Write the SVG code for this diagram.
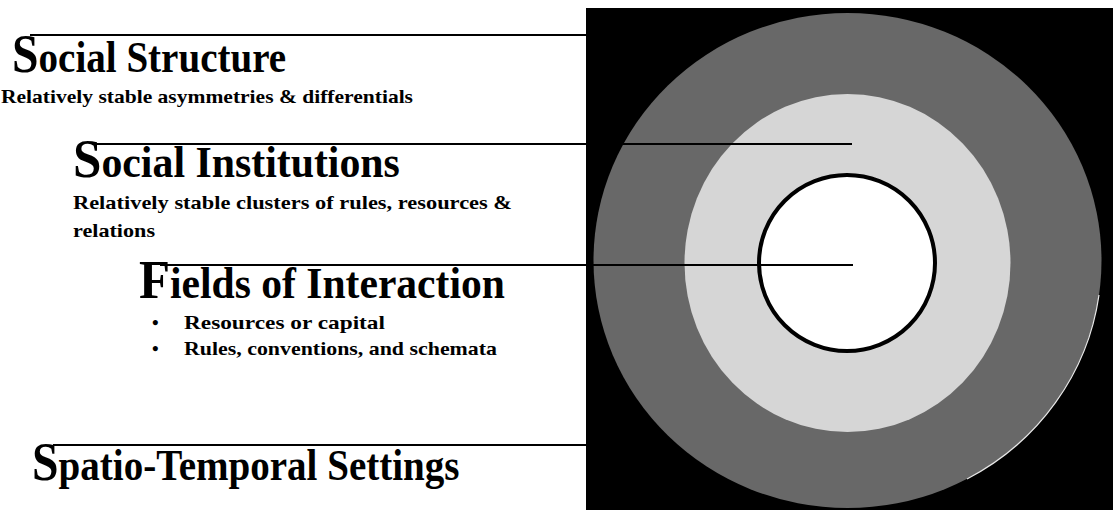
<svg xmlns="http://www.w3.org/2000/svg" width="1115" height="514" viewBox="0 0 1115 514">
<style>
.t{font-family:"Liberation Serif","Times New Roman",serif;font-weight:bold;fill:#000}
.title{font-size:45px}
.cap{font-size:55px}
.sub{font-size:19px}
.ln{stroke:#000;stroke-width:1.8;fill:none}
</style>
<rect width="1115" height="514" fill="#fff"/>
<g id="rings">
<rect x="586" y="8" width="527" height="502" fill="#000"/>
<ellipse cx="847.5" cy="260.5" rx="254" ry="247.5" fill="#686868"/>
<path d="M1099 295 A254 247.5 0 0 1 967 479" fill="none" stroke="#e8e8e8" stroke-width="1.2"/>
<ellipse cx="847.5" cy="263" rx="163" ry="169" fill="#d6d6d6"/>
<circle cx="847" cy="263" r="88" fill="#fff" stroke="#000" stroke-width="4"/>
</g>
<g id="connectors">
<line class="ln" x1="30" y1="35" x2="586" y2="35"/>
<line class="ln" x1="93" y1="144" x2="852" y2="144"/>
<line class="ln" x1="160" y1="265" x2="853" y2="265"/>
<line class="ln" x1="53" y1="445" x2="586" y2="445"/>
</g>
<g id="social-structure">
<text class="t title" transform="translate(12,72) scale(0.868,1)"><tspan class="cap">S</tspan>ocial Structure</text>
<text class="t sub" x="1" y="103" textLength="412" lengthAdjust="spacingAndGlyphs">Relatively stable asymmetries &amp; differentials</text>
</g>
<g id="social-institutions">
<text class="t title" transform="translate(73,177) scale(0.929,1)"><tspan class="cap">S</tspan>ocial Institutions</text>
<text class="t sub" x="73" y="209" textLength="439" lengthAdjust="spacingAndGlyphs">Relatively stable clusters of rules, resources &amp;</text>
<text class="t sub" x="73" y="237" textLength="82" lengthAdjust="spacingAndGlyphs">relations</text>
</g>
<g id="fields-of-interaction">
<text class="t title" transform="translate(139,298) scale(0.924,1)"><tspan class="cap">F</tspan>ields of Interaction</text>
<text class="t sub" x="152" y="329">•</text>
<text class="t sub" x="184" y="329" textLength="201" lengthAdjust="spacingAndGlyphs">Resources or capital</text>
<text class="t sub" x="152" y="355">•</text>
<text class="t sub" x="184" y="355" textLength="313" lengthAdjust="spacingAndGlyphs">Rules, conventions, and schemata</text>
</g>
<g id="spatio-temporal">
<text class="t title" transform="translate(32,480) scale(0.868,1)"><tspan class="cap">S</tspan>patio-Temporal Settings</text>
</g>
</svg>
